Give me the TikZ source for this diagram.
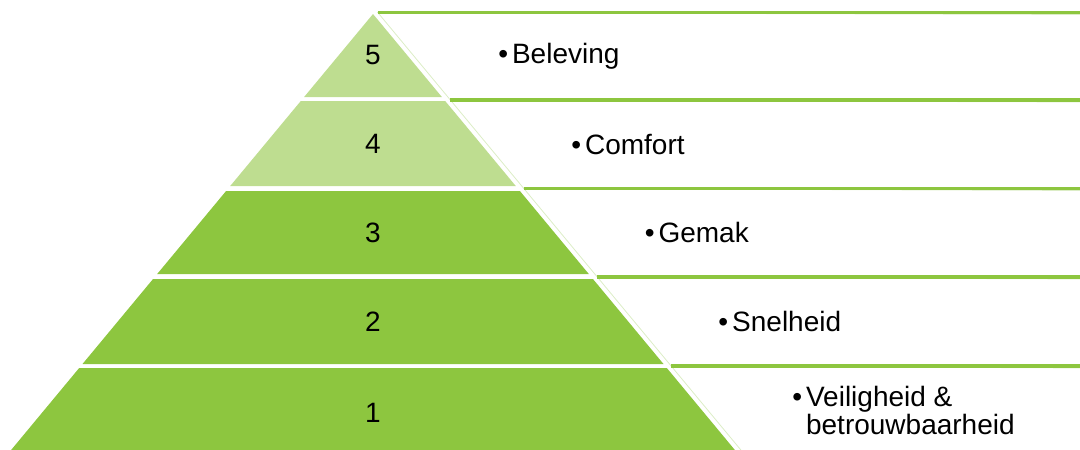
\documentclass[tikz,border=0pt]{standalone}
\usepackage{fontspec}
\setmainfont{Liberation Sans}

\definecolor{tiergreen}{HTML}{8DC63F}
\definecolor{tierlight}{HTML}{BEDD90}
\definecolor{edgelight}{HTML}{DCEDC6}

% bullet with a small gap before the text
\newcommand{\tierbullet}{•\hspace{4pt}}

\tikzset{
	tierfill/.style={fill=#1},
	tiertext/.style={font=\fontsize{28}{28}\selectfont, inner sep=0pt},
	bandtop/.style={draw=tiergreen, line width=3.5pt},
	bandedge/.style={draw=edgelight, line width=0.8pt}
}

\begin{document}
\begin{tikzpicture}[x=1pt,y=-1pt]
	\useasboundingbox (0,0) rectangle (1080,450);
	\clip (0,0) rectangle (1080,450);
	% pyramid, one trapezium per tier (apex at 373,14)
	\foreach \t/\b/\c/\n in {14/97/tierlight/5, 101/186/tierlight/4, 191/274/tiergreen/3, 279/364/tiergreen/2, 368/457/tiergreen/1}{
		\fill[tierfill=\c] ({373-0.83*(\t-14)},\t) -- ({373+0.83*(\t-14)},\t) -- ({373+0.83*(\b-14)},\b) -- ({373-0.83*(\b-14)},\b) -- cycle;
		\node[tiertext] (num\n) at (373,{(\t+\b)/2}) {\n};
	}
	% bands on the right
	\foreach \t/\b/\n/\txt in {12.5/100/5/{\tierbullet Beleving}, 100/188.5/4/{\tierbullet Comfort}, 188.5/277/3/{\tierbullet Gemak}, 277/366/2/{\tierbullet Snelheid}, 366/455/1/{\tierbullet Veiligheid \&\\\phantom{\tierbullet}betrouwbaarheid}}{
		\draw[bandedge] ({379+0.83*(\b-14)},\b) -- ({379+0.83*(\t-14)},\t) -- (1085,\t+2);
		\draw[bandtop] ({379+0.83*(\t-14)},\t) -- (1085,\t);
		\node[tiertext, anchor=west, align=left] (lab\n) at ({463+0.83*((\t+\b)/2-14)},{(\t+\b)/2}) {\txt};
	}
\end{tikzpicture}
\end{document}
